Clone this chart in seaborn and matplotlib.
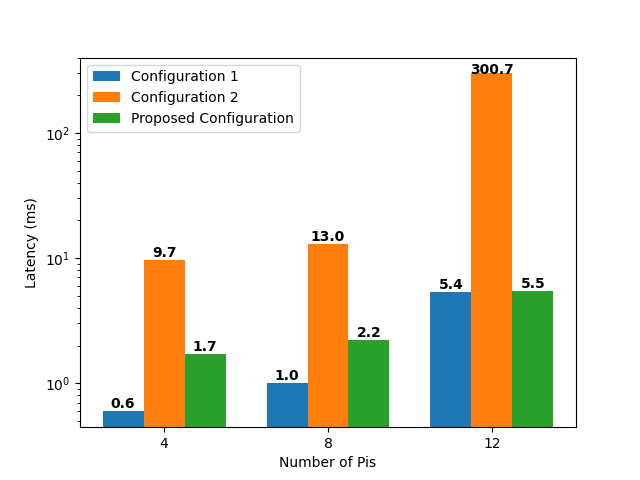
import numpy as np
import pandas as pd
import matplotlib
matplotlib.use("Agg")
from matplotlib import pyplot as plt
import seaborn as sns

pis = ["4", "8", "12"]
configs = ["Configuration 1", "Configuration 2", "Proposed Configuration"]
config1 = [0.6, 1.0, 5.4]
config2 = [9.7, 13.0, 300.7]
proposed = [1.7, 2.2, 5.5]

df = pd.DataFrame({
    "Number of Pis": pis * 3,
    "Configuration": [configs[0]] * 3 + [configs[1]] * 3 + [configs[2]] * 3,
    "Latency": config1 + config2 + proposed,
})

fig, ax = plt.subplots(figsize=(6.4, 4.8), dpi=100)
sns.barplot(data=df, x="Number of Pis", y="Latency", hue="Configuration",
            hue_order=configs, order=pis, palette=["#1f77b4", "#ff7f0e", "#2ca02c"],
            saturation=1, width=0.75, errorbar=None, ax=ax)
ax.set_yscale("log")
ax.set_ylim(0.445, 400)
ax.set_xlim(-0.5125, 2.5125)

# value labels on top of bars
top = max(config1 + config2 + proposed)
for c in ax.containers:
    anns = ax.bar_label(c, fmt="%.1f", fontweight="bold", fontsize=10, padding=0)
    for a, v in zip(anns, c.datavalues):
        if v == top:
            # the tallest label sits a bit lower, touching its bar
            a.xyann = (0, -3)

ax.set_xlabel("Number of Pis")
ax.set_ylabel("Latency (ms)")
ax.legend(loc="upper left", title=None)

plt.savefig("out.png", dpi=100)
